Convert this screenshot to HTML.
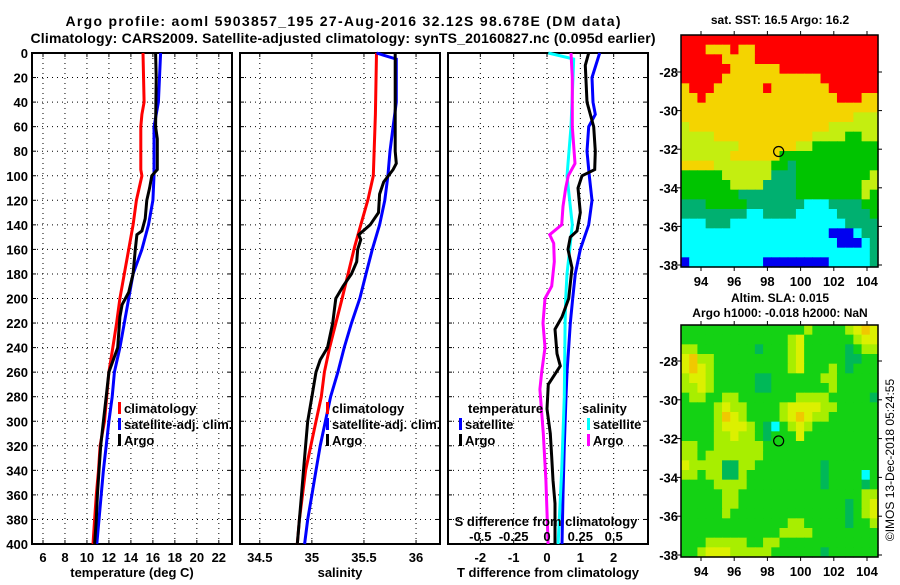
<!DOCTYPE html>
<html><head><meta charset="utf-8"><style>
body{margin:0;background:#fff}
svg text{font-family:"Liberation Sans",sans-serif;font-weight:bold;fill:#000}
</style></head><body>
<svg id="c" width="900" height="580" viewBox="0 0 900 580" xmlns="http://www.w3.org/2000/svg">
<text x="343" y="26" font-size="14" text-anchor="middle" textLength="555">Argo profile: aoml 5903857_195 27-Aug-2016 32.12S 98.678E (DM data)</text>
<text x="343" y="43" font-size="14" text-anchor="middle" textLength="625">Climatology: CARS2009. Satellite-adjusted climatology: synTS_20160827.nc (0.095d earlier)</text>
<text x="132" y="577" font-size="13" text-anchor="middle">temperature (deg C)</text>
<text x="340" y="577" font-size="13" text-anchor="middle">salinity</text>
<text x="548" y="577" font-size="13" text-anchor="middle">T difference from climatology</text>
<text x="780" y="24" font-size="12" text-anchor="middle">sat. SST: 16.5 Argo: 16.2</text>
<text x="780" y="302" font-size="12" text-anchor="middle">Altim. SLA: 0.015</text>
<text x="780" y="317" font-size="12" text-anchor="middle">Argo h1000: -0.018 h2000: NaN</text>
<text x="0" y="0" font-size="12" style="font-weight:normal" text-anchor="middle" transform="translate(894,460) rotate(-90)">©IMOS 13-Dec-2018 05:24:55</text>
<g id="layer"></g>
</svg>
<script>
// ---- data ----
const depthTicks=[0,20,40,60,80,100,120,140,160,180,200,220,240,260,280,300,320,340,360,380,400];
const tTicks=[6,8,10,12,14,16,18,20,22];
const sTicks=[34.5,35,35.5,36];
const dTTicks=[-2,-1,0,1,2];
const dSTicks=[-0.5,-0.25,0,0.25,0.5];
const dSTickLabels=["-0.5","-0.25","0","0.25","0.5"];

const tClimDepth=[0,40,50,60,95,100,120,140,160,180,200,220,240,260,280,300,320,340,360,380,400];
const tClim=[15.1,15.2,15.0,14.9,14.9,15.0,14.5,14.2,13.8,13.4,13.0,12.7,12.35,12.0,11.8,11.6,11.2,11.05,10.85,10.7,10.55];
const tSatDepth=[0,40,60,100,120,140,160,180,200,220,240,260,280,300,320,340,360,380,400];
const tSat=[16.7,16.5,16.1,16.1,16.0,15.6,15.0,14.2,13.8,13.4,13.0,12.5,12.3,12.0,11.75,11.5,11.3,11.1,10.9];
const tArgoDepth=[0,20,60,70,95,100,110,120,135,145,148,160,180,195,205,215,240,250,260,280,300,320,340,360,380,400];
const tArgo=[16.25,16.3,16.25,16.4,16.4,15.9,15.7,15.45,15.3,15.0,14.55,14.4,14.2,13.8,13.2,13.0,12.8,12.4,12.0,11.75,11.5,11.25,11.1,10.95,10.85,10.7];

const sClimDepth=[0,50,100,119,140,158,200,240,260,280,300,340,380,400];
const sClim=[35.62,35.61,35.59,35.54,35.47,35.41,35.29,35.17,35.12,35.09,35.04,34.94,34.88,34.86];
const sSatDepth=[0,5,40,60,80,100,120,140,160,180,200,220,240,260,280,300,320,340,360,380,400];
const sSat=[35.62,35.81,35.81,35.78,35.75,35.73,35.70,35.65,35.58,35.52,35.46,35.38,35.31,35.25,35.18,35.13,35.08,35.04,35.0,34.96,34.93];
const sArgoDepth=[0,80,90,95,105,115,130,140,148,152,160,170,180,190,200,220,240,250,260,280,300,320,340,360,380,400];
const sArgo=[35.80,35.80,35.81,35.78,35.69,35.65,35.64,35.56,35.45,35.47,35.44,35.43,35.38,35.30,35.23,35.20,35.15,35.08,35.04,35.0,34.96,34.94,34.92,34.90,34.88,34.86];

const dTSatDepth=[0,20,40,50,60,80,100,120,140,160,180,200,220,240,260,280,320,360,400];
const dTSat=[1.58,1.35,1.38,1.45,1.25,1.2,1.27,1.35,1.25,1.0,0.85,0.77,0.7,0.65,0.6,0.57,0.52,0.48,0.45];
const dTArgoDepth=[0,10,40,60,80,95,100,110,130,145,150,160,175,200,215,225,245,255,270,290,310,329,348,367,400];
const dTArgo=[1.25,1.15,1.2,1.4,1.45,1.43,1.05,0.93,1.0,0.9,0.7,0.63,0.75,0.65,0.45,0.24,0.3,0.4,0.04,0,0.1,0.14,0.18,0.24,0.24];
const dSSatDepth=[0,5,20,60,100,110,140,160,180,200,220,280,340,400];
const dSSat=[0.01,0.2,0.195,0.18,0.15,0.16,0.19,0.17,0.15,0.14,0.136,0.13,0.11,0.083];
const dSArgoDepth=[0,20,60,90,100,110,125,140,148,155,170,190,200,220,240,260,274,310,348,400];
const dSArgo=[0.18,0.19,0.19,0.21,0.16,0.14,0.12,0.11,0.02,0.05,0.055,0.035,-0.015,-0.03,-0.015,-0.04,-0.053,-0.028,-0.008,0.008];

const latTicks=[-28,-30,-32,-34,-36,-38];
const lonTicks=[94,96,98,100,102,104];
const argoLon=98.678, argoLat=-32.12;
const sstGrid=[
"RRRRRRRRRRRRRRRRRRRRRRRR",
"RRRYYYRYYRRRRRRRRRRRRRRR",
"RRRRRYYYYRRRRRRRRRRRRRRR",
"RRRRRRYYYYYYRRRRRRRRRRRR",
"RRRRRYYYYYYYYYYYYRRRRRRR",
"YRRRYYYYYYRYYYYYYYRRRRRR",
"YYRYYYYYYYYYYYYYYYYRRRYY",
"YYYYYYYYYYYYYYYYYYYYYYYY",
"YYYYYYYYYYYYYYYYYYYYYLLL",
"LYYYYYYYYYYYYYYYYYLLLLLL",
"LLLLYYYYYYYYYYYYLLLLGGLL",
"LLLLLLLYYYYYYYLLGGGGGGGG",
"LLLLLLYYYYYYGGGGGGGGGGGG",
"YYYYLLLLLLLGGTGGGGGGGGGG",
"GGGGGLLLLLLTTTGGGGGGGGGL",
"GGGGGGLLLLTTTTGGGGGGGGLL",
"GGGGGGGTTTTTTTGGGGGGGGLG",
"TTTGGGGGTTTTTTTCCCTTTTGG",
"TTTTTTTTCCTTTTCCCCCTTTTG",
"CCCTTTCCCCCCCCCCCCCCTTTT",
"CCCCCCCCCCCCCCCCCCBBBCTT",
"CCCCCCCCCCCCCCCCCCCBBBCT",
"CCCCCCCCCCCCCCCCCCCCCCCT",
"BCCCCCCCCCBBBBBBBBCCCCCT"];
const slaGrid=[
"GGGGGGGGGGGGGGGLGGGGLYOY",
"GGGGGGGGGGGGGLYGGGGGGLYY",
"LLGGGGGGGDGGGLYGGGGGDGLL",
"YOLLGGGGGGGGGLYGGGGGDDGG",
"YOYLGGGGGGGGGLYGGGLGDGGG",
"LYYLGGGGGDDGGGGGGLLGGGGG",
"LLYLGGGGGDDGGGGGGGLGGGGG",
"GLLGGLLGGGGGGGLLLLGGGGGD",
"GGGGLYLLGGGGLYYYYLLGGGGG",
"GGGGLOYLGGGGLYOYLLGGGGGG",
"GGGGLYYYLGDCGLYLGGGGGGGG",
"GGGGLLYLLGDGGGYGGGGGGGGG",
"LLGGLLLLLLGGGGGGGGGGGGGG",
"LLGLLLLLLLGGGGGGGGGGGGGG",
"YLLLLDDLLGGGGGGGGDGGGGGG",
"LLGLLDDLGGGGGGGGGDGGGGCG",
"GGGGLLLLGGGGGGGGGDGGGGDG",
"GGGGGLLGGGGGGGGGGGGGGGLL",
"GGGGGLLGGGGGGGGGGGGGDGLY",
"GGGGGLGGGGGGGGGGGGGGDGLY",
"GGGGGGGGGGGGGLLGGGGGDGGL",
"GGGGGGGGGGGGLLLLGGGGGGGG",
"GGGLLLLLGGLLGGGGGGGGGGGG",
"GGLYYYLLLLLGGGGGGDGGGGGG"];
const sstColors={R:"#ff0000",Y:"#f4d400",L:"#c4ee10",G:"#00c400",T:"#00b070",C:"#00ffff",B:"#0000f0"};
const slaColors={G:"#14d214",D:"#00b858",T:"#00b858",L:"#a8ee00",Y:"#dcf000",O:"#f0c800",C:"#00ffff"};

// ---- drawing ----
const NS="http://www.w3.org/2000/svg";
const layer=document.getElementById('layer');
function mk(tag,attrs,parent){const e=document.createElementNS(NS,tag);for(const k in attrs)e.setAttribute(k,attrs[k]);(parent||layer).appendChild(e);return e;}
const TOP=53,BOT=544;
function yD(d){return TOP+d*(BOT-TOP)/400;}
function scale(d0,d1,r0,r1){return v=>r0+(v-d0)*(r1-r0)/(d1-d0);}
const xT=scale(5,23.2,32,232);
const xS=scale(34.31,36.23,240,440);
const xDT=scale(-2.97,3.03,448,648);
const xDS=v=>xDT(v*4);

function panel(name,x0,x1,xticks,xf,labels,showY){
  const g=mk('g',{});
  
  
  depthTicks.forEach(d=>{
    const l=mk('line',{x1:x0,x2:x1,y1:yD(d),y2:yD(d),stroke:'#000','stroke-width':1,'stroke-dasharray':'1,4'},g);
    
    
    mk('line',{x1:x0,x2:x0+4,y1:yD(d),y2:yD(d),stroke:'#000'},g);
    mk('line',{x1:x1-4,x2:x1,y1:yD(d),y2:yD(d),stroke:'#000'},g);
    if(showY){const t=mk('text',{x:x0-4,y:yD(d)+5,'font-size':13,'text-anchor':'end'},g);t.textContent=d;
      
      }
  });
  xticks.forEach((v,i)=>{
    const x=xf(v);
    const l=mk('line',{x1:x,x2:x,y1:TOP,y2:BOT,stroke:'#000','stroke-width':1,'stroke-dasharray':'1,4'},g);
    
    
    mk('line',{x1:x,x2:x,y1:BOT-4,y2:BOT,stroke:'#000'},g);
    mk('line',{x1:x,x2:x,y1:TOP,y2:TOP+4,stroke:'#000'},g);
    const t=mk('text',{x:x,y:BOT+18,'font-size':13,'text-anchor':'middle'},g);t.textContent=labels?labels[i]:v;
    
    
  });
  const r=mk('rect',{x:x0,y:TOP,width:x1-x0,height:BOT-TOP,fill:'none',stroke:'#000','stroke-width':2},g);
  
  
}
panel('temperature-panel',32,232,tTicks,xT,null,true);
panel('salinity-panel',240,440,sTicks,xS,null,false);
panel('difference-panel',448,648,dTTicks,xDT,null,false);

function line(name,depths,vals,xf,color){
  const pts=depths.map((d,i)=>xf(vals[i]).toFixed(1)+','+yD(d).toFixed(1)).join(' ');
  const p=mk('polyline',{points:pts,fill:'none',stroke:color,'stroke-width':3,'stroke-linejoin':'miter'});
  
  
}
line('temp-climatology-line',tClimDepth,tClim,xT,'#ff0000');
line('temp-satellite-line',tSatDepth,tSat,xT,'#0000ff');
line('temp-argo-line',tArgoDepth,tArgo,xT,'#000000');
line('sal-climatology-line',sClimDepth,sClim,xS,'#ff0000');
line('sal-satellite-line',sSatDepth,sSat,xS,'#0000ff');
line('sal-argo-line',sArgoDepth,sArgo,xS,'#000000');
line('dt-satellite-line',dTSatDepth,dTSat,xDT,'#0000ff');
line('ds-satellite-line',dSSatDepth,dSSat,xDS,'#00ffff');
line('ds-argo-line',dSArgoDepth,dSArgo,xDS,'#ff00ff');
line('dt-argo-line',dTArgoDepth,dTArgo,xDT,'#000000');

const st=mk('text',{x:546,y:526,'font-size':13,'text-anchor':'middle'});st.textContent='S difference from climatology';


dSTicks.forEach((v,i)=>{const t=mk('text',{x:xDS(v),y:541,'font-size':13,'text-anchor':'middle'});t.textContent=dSTickLabels[i];
  
  });

function legend(name,x,y,items){
  items.forEach((it,i)=>{
    const yy=y+i*16;
    if(it[1]){const m=mk('rect',{x:x,y:yy-11,width:3,height:12,fill:it[1]});
      
      }
    const t=mk('text',{x:x+(it[1]?6:0),y:yy,'font-size':13});t.textContent=it[0];
    
    
  });
}
legend('temp-legend',118,413,[['climatology','#ff0000'],['satellite-adj. clim.','#0000ff'],['Argo','#000']]);
legend('sal-legend',326,413,[['climatology','#ff0000'],['satellite-adj. clim.','#0000ff'],['Argo','#000']]);
legend('dt-legend',468,413,[['temperature',null]]);
legend('dt-legend',459,429,[['satellite','#0000ff'],['Argo','#000']]);
legend('ds-legend',582,413,[['salinity',null]]);
legend('ds-legend',587,429,[['satellite','#00ffff'],['Argo','#ff00ff']]);

function map(name,grid,colors,x0,y0,x1,y1,lat28,lat38){
  const g=mk('g',{});
  
  
  const rows=grid.length,cols=grid[0].length,cw=(x1-x0)/cols,ch=(y1-y0)/rows;
  grid.forEach((row,r)=>{for(let c=0;c<cols;c++){
    const cell=mk('rect',{x:(x0+c*cw).toFixed(2),y:(y0+r*ch).toFixed(2),width:(cw+0.6).toFixed(2),height:(ch+0.6).toFixed(2),fill:colors[row[c]]||colors.G},g);
    
    
  }});
  const xL=scale(94,104,701,867), yL=scale(-28,-38,lat28,lat38);
  mk('rect',{x:x0,y:y0,width:x1-x0,height:y1-y0,fill:'none',stroke:'#000','stroke-width':1.5},g);
  latTicks.forEach(v=>{const y=yL(v);
    mk('line',{x1:x0-4,x2:x0,y1:y,y2:y,stroke:'#000'},g);mk('line',{x1:x1,x2:x1+4,y1:y,y2:y,stroke:'#000'},g);
    const t=mk('text',{x:x0-3,y:y+5,'font-size':13,'text-anchor':'end'},g);t.textContent=v;
    
    });
  lonTicks.forEach(v=>{const x=xL(v);
    mk('line',{x1:x,x2:x,y1:y1,y2:y1+4,stroke:'#000'},g);mk('line',{x1:x,x2:x,y1:y0-4,y2:y0,stroke:'#000'},g);
    const t=mk('text',{x:x,y:y1+19,'font-size':13,'text-anchor':'middle'},g);t.textContent=v;
    
    });
  const m=mk('circle',{cx:xL(argoLon),cy:yL(argoLat),r:5,fill:'none',stroke:'#000','stroke-width':1.2},g);
  
  
}
map('sst-map',sstGrid,sstColors,681,35,878,267,72,265);
map('sla-map',slaGrid,slaColors,681,325,878,557,361,555);
</script>
</body></html>
